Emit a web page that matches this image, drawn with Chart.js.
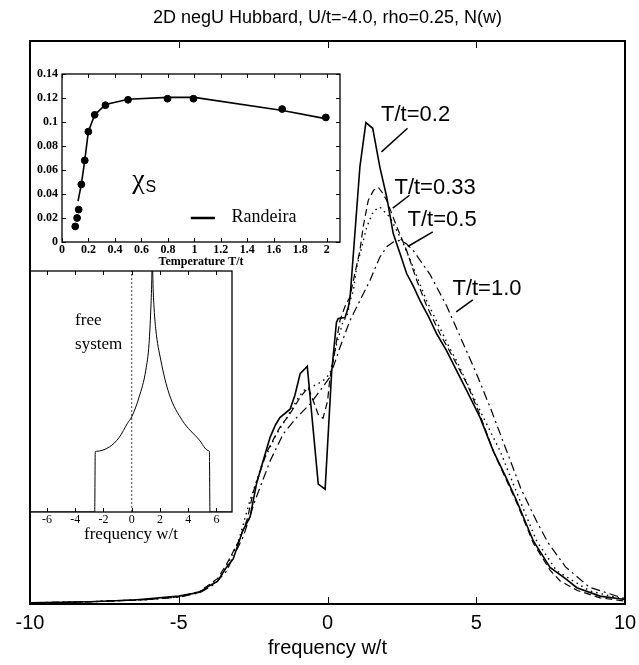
<!DOCTYPE html>
<html lang="en">
<head>
<meta charset="UTF-8">
<title>2D negU Hubbard N(w)</title>
<script src="https://cdn.jsdelivr.net/npm/chart.js@4"></script>
<style>
  body { margin: 0; background: #fff; }
  #wrap { position: relative; width: 639px; height: 665px; }
  canvas { position: absolute; }
  #main { left: 0; top: 0; }
  #free { left: 29px; top: 269px; }
  #chi { left: 31px; top: 43px; }
</style>
</head>
<body>
<div id="wrap">
  <canvas id="main" width="639" height="665"></canvas>
  <canvas id="free" width="205" height="280"></canvas>
  <canvas id="chi" width="316" height="226"></canvas>
</div>
<script>
// main panel: N(w) for four temperatures
const mainTicks = [-10, -5, 0, 5, 10];

const wT02 = [-10, -8, -6.5, -5, -4.3, -3.95, -3.7, -3.4, -3.17, -2.85, -2.6, -2.38, -2.16, -1.93, -1.75, -1.6, -1.26, -1.1, -0.92, -0.68, -0.31, -0.08, 0.14, 0.3, 0.36, 0.59, 0.7, 0.76, 1.09, 1.29, 1.52, 1.76, 1.99, 2.21, 2.44, 2.66, 2.88, 3.11, 3.4, 3.67, 4.0, 4.68, 5.13, 5.57, 6.0, 6.36, 6.92, 7.48, 8.0, 8.38, 9.16, 10];
const nT02 = [0.002, 0.004, 0.007, 0.014, 0.021, 0.033, 0.04, 0.065, 0.08, 0.13, 0.155, 0.215, 0.255, 0.296, 0.318, 0.331, 0.346, 0.37, 0.409, 0.422, 0.213, 0.204, 0.412, 0.5, 0.507, 0.509, 0.527, 0.545, 0.777, 0.855, 0.845, 0.776, 0.723, 0.658, 0.622, 0.587, 0.565, 0.539, 0.51, 0.48, 0.45, 0.379, 0.331, 0.272, 0.225, 0.183, 0.112, 0.065, 0.045, 0.029, 0.014, 0.008];

const wT033 = [-10, -8, -6, -5, -4.3, -3.7, -3.4, -3.0, -2.7, -2.49, -2.04, -1.6, -1.26, -0.92, -0.65, -0.48, -0.3, -0.15, 0.0, 0.08, 0.25, 0.42, 0.6, 0.75, 0.92, 1.09, 1.2, 1.37, 1.55, 1.71, 1.85, 1.99, 2.33, 2.66, 3.0, 3.33, 3.78, 4.2, 4.7, 5.13, 5.6, 6.36, 6.92, 7.48, 7.82, 8.4, 9.16, 10];
const nT033 = [0.002, 0.004, 0.008, 0.013, 0.022, 0.045, 0.07, 0.11, 0.15, 0.2, 0.27, 0.314, 0.338, 0.367, 0.385, 0.361, 0.335, 0.33, 0.36, 0.4, 0.45, 0.504, 0.53, 0.545, 0.587, 0.628, 0.67, 0.717, 0.735, 0.74, 0.73, 0.717, 0.67, 0.628, 0.575, 0.53, 0.48, 0.44, 0.39, 0.335, 0.268, 0.18, 0.108, 0.06, 0.041, 0.024, 0.011, 0.005];

const wT05 = [-10, -8, -6, -5, -4.3, -3.7, -3.4, -3.0, -2.61, -2.16, -1.71, -1.37, -1.04, -0.81, -0.59, -0.35, -0.14, 0.08, 0.31, 0.53, 0.65, 0.76, 0.87, 0.98, 1.32, 1.55, 1.76, 2.1, 2.55, 2.88, 3.33, 3.78, 4.12, 4.34, 5.13, 5.8, 6.45, 7.03, 7.7, 8.82, 10];
const nT05 = [0.002, 0.004, 0.008, 0.013, 0.022, 0.042, 0.065, 0.11, 0.183, 0.254, 0.302, 0.331, 0.361, 0.379, 0.385, 0.39, 0.397, 0.409, 0.462, 0.504, 0.509, 0.539, 0.557, 0.598, 0.67, 0.698, 0.705, 0.687, 0.64, 0.598, 0.539, 0.49, 0.453, 0.432, 0.343, 0.272, 0.186, 0.112, 0.059, 0.023, 0.008];

const wT10 = [-10, -8, -6, -5, -4.29, -3.8, -3.4, -2.83, -2.44, -1.93, -1.49, -1.04, -0.59, -0.25, 0.08, 0.42, 0.76, 1.09, 1.43, 1.76, 2.0, 2.21, 2.44, 2.65, 2.88, 3.45, 4.0, 4.5, 5.0, 5.5, 6.0, 6.5, 7.0, 7.4, 8.0, 8.8, 9.9, 10];
const nT10 = [0.002, 0.004, 0.008, 0.012, 0.02, 0.035, 0.058, 0.12, 0.183, 0.254, 0.302, 0.331, 0.355, 0.379, 0.403, 0.456, 0.504, 0.539, 0.575, 0.616, 0.635, 0.643, 0.646, 0.64, 0.628, 0.585, 0.53, 0.47, 0.41, 0.345, 0.275, 0.205, 0.15, 0.11, 0.066, 0.03, 0.011, 0.01];

// upper inset: chi_s vs temperature
const chiXTicks = [0, 0.2, 0.4, 0.6, 0.8, 1, 1.2, 1.4, 1.6, 1.8, 2];
const chiYTicks = [0, 0.02, 0.04, 0.06, 0.08, 0.1, 0.12, 0.14];
const tChi = [0.1, 0.114, 0.126, 0.146, 0.172, 0.199, 0.247, 0.328, 0.499, 0.797, 0.993, 1.663, 1.993];
const chi = [0.013, 0.02, 0.027, 0.048, 0.068, 0.092, 0.106, 0.114, 0.1185, 0.1194, 0.1194, 0.1108, 0.1038];
const tRand = [0.121, 0.146, 0.172, 0.199, 0.247, 0.33, 0.5, 0.8, 1.0, 1.667, 2.0];
const chiRand = [0.034, 0.048, 0.068, 0.092, 0.106, 0.1147, 0.119, 0.1205, 0.1205, 0.1096, 0.1026];

// lower inset: free system DOS
const freeTicks = [-6, -4, -2, 0, 2, 4, 6];
const wFree = [-7.2, -2.62, -2.58, -2.5, -1.58, -0.88, -0.3, 0, 0.53, 1.0, 1.23, 1.35, 1.42, 1.46, 1.5, 1.57, 1.7, 2.06, 2.65, 3.58, 4.77, 5.42, 5.5, 5.54, 7.1];
const nFree = [0, 0, 0.25, 0.252, 0.27, 0.31, 0.368, 0.395, 0.478, 0.589, 0.7, 0.838, 0.963, 1.1, 0.963, 0.86, 0.76, 0.63, 0.49, 0.38, 0.3, 0.255, 0.25, 0, 0];
const zeroX = [0, 0];
const zeroY = [0, 1];

const SANS = 'Liberation Sans, Arial, sans-serif';
const SERIF = 'Liberation Serif, Times New Roman, serif';

const pts = (xs, ys) => xs.map((x, i) => ({ x, y: ys[i] }));
const setTicks = list => scale => { scale.ticks = list.map(v => ({ value: v })); };

// box round the plot area with inward tick marks
const frame = {
  id: 'frame',
  afterDraw(chart, args, o) {
    const { ctx, chartArea: a, scales } = chart;
    ctx.save();
    ctx.strokeStyle = '#000';
    ctx.lineWidth = o.width;
    ctx.strokeRect(a.left, a.top, a.right - a.left, a.bottom - a.top);
    ctx.lineWidth = 1;
    ctx.beginPath();
    (o.xTicks || []).forEach(v => {
      const x = Math.round(scales.x.getPixelForValue(v)) + 0.5;
      ctx.moveTo(x, a.bottom); ctx.lineTo(x, a.bottom - o.len);
      ctx.moveTo(x, a.top); ctx.lineTo(x, a.top + o.len);
    });
    (o.yTicks || []).forEach(v => {
      const y = Math.round(scales.y.getPixelForValue(v)) + 0.5;
      ctx.moveTo(a.left, y); ctx.lineTo(a.left + o.len, y);
      ctx.moveTo(a.right, y); ctx.lineTo(a.right - o.len, y);
    });
    ctx.stroke();
    ctx.restore();
  }
};

// free text and leader lines, placed in data units
const notes = {
  id: 'notes',
  afterDatasetsDraw(chart, args, o) {
    const { ctx, scales: { x, y } } = chart;
    ctx.save();
    ctx.fillStyle = '#000';
    ctx.strokeStyle = '#000';
    (o.lines || []).forEach(l => {
      ctx.lineWidth = l.width || 1;
      ctx.beginPath();
      ctx.moveTo(x.getPixelForValue(l.x1), y.getPixelForValue(l.y1));
      ctx.lineTo(x.getPixelForValue(l.x2), y.getPixelForValue(l.y2));
      ctx.stroke();
    });
    (o.texts || []).forEach(t => {
      ctx.font = t.font;
      ctx.textAlign = 'left';
      ctx.textBaseline = 'middle';
      ctx.fillText(t.text, x.getPixelForValue(t.x), y.getPixelForValue(t.y));
    });
    ctx.restore();
  }
};

const curve = (label, xs, ys, dash, width) => ({
  label,
  data: pts(xs, ys),
  borderColor: '#000',
  borderWidth: width,
  borderDash: dash,
  pointRadius: 0,
  tension: 0,
  fill: false
});

const plain = { display: false, drawTicks: false };
// keep the plot box where the reference has it, labels may overhang
const noOverhang = height => s => { s.height = height; s.paddingLeft = 0; s.paddingRight = 0; };

new Chart(document.getElementById('main'), {
  type: 'line',
  data: {
    datasets: [
      curve('T/t=1.0', wT10, nT10, [9, 4, 2, 4], 1.2),
      curve('T/t=0.5', wT05, nT05, [1.5, 4], 1.4),
      curve('T/t=0.33', wT033, nT033, [7, 4], 1.2),
      curve('T/t=0.2', wT02, nT02, [], 1.6)
    ]
  },
  options: {
    responsive: false,
    animation: false,
    layout: { padding: { left: 30, right: 14, top: 0, bottom: 0 } },
    plugins: {
      legend: { display: false },
      tooltip: { enabled: false },
      title: {
        display: true,
        text: '2D negU Hubbard, U/t=-4.0, rho=0.25, N(w)',
        color: '#000',
        font: { family: SANS, size: 18, weight: 'normal' },
        padding: { top: 7, bottom: 12.4 }
      },
      frame: { width: 2, len: 7, xTicks: [-5, 0, 5] },
      notes: {
        texts: [
          { text: 'T/t=0.2', x: 1.8, y: 0.868, font: `22px ${SANS}` },
          { text: 'T/t=0.33', x: 2.25, y: 0.739, font: `22px ${SANS}` },
          { text: 'T/t=0.5', x: 2.69, y: 0.682, font: `22px ${SANS}` },
          { text: 'T/t=1.0', x: 4.2, y: 0.56, font: `22px ${SANS}` }
        ],
        lines: [
          { x1: 2.69, y1: 0.845, x2: 1.815, y2: 0.803, width: 1.5 },
          { x1: 2.756, y1: 0.726, x2: 2.195, y2: 0.703, width: 1.5 },
          { x1: 3.54, y1: 0.661, x2: 2.7, y2: 0.635, width: 1.5 },
          { x1: 4.884, y1: 0.54, x2: 4.326, y2: 0.519, width: 1.5 }
        ]
      }
    },
    scales: {
      x: {
        type: 'linear', min: -10, max: 10,
        afterBuildTicks: setTicks(mainTicks),
        afterFit: noOverhang(61),
        grid: plain,
        border: { display: false },
        ticks: { padding: 7, color: '#000', maxRotation: 0, autoSkip: false, font: { family: SANS, size: 20 } },
        title: { display: true, text: 'frequency w/t', color: '#000', font: { family: SANS, size: 20 }, padding: { top: 0, bottom: 5 } }
      },
      y: { display: false, min: 0, max: 1 }
    }
  },
  plugins: [frame, notes]
});

new Chart(document.getElementById('chi'), {
  type: 'scatter',
  data: {
    datasets: [
      { type: 'line', label: 'Randeira', data: pts(tRand, chiRand), borderColor: '#000', borderWidth: 1.6, pointRadius: 0, tension: 0, showLine: true },
      { label: 'chi_s', data: pts(tChi, chi), backgroundColor: '#000', borderColor: '#000', pointRadius: 3.4 }
    ]
  },
  options: {
    responsive: false,
    animation: false,
    layout: { padding: { left: 0, right: 7, top: 31, bottom: 0 } },
    plugins: {
      legend: { display: false },
      tooltip: { enabled: false },
      frame: { width: 1.3, len: 4, xTicks: chiXTicks, yTicks: chiYTicks },
      notes: {
        texts: [
          { text: 'χ', x: 0.53, y: 0.051, font: `28px ${SERIF}` },
          { text: 'S', x: 0.63, y: 0.045, font: `16px ${SANS}` },
          { text: 'Randeira', x: 1.28, y: 0.0205, font: `18px ${SERIF}` }
        ],
        lines: [{ x1: 0.973, y1: 0.02, x2: 1.155, y2: 0.02, width: 2.5 }]
      }
    },
    scales: {
      x: {
        type: 'linear', min: 0, max: 2.1,
        afterBuildTicks: setTicks(chiXTicks),
        afterFit: noOverhang(27),
        grid: plain,
        border: { display: false },
        ticks: { padding: 2, color: '#000', maxRotation: 0, autoSkip: false, font: { family: SERIF, size: 12, weight: 'bold', lineHeight: 1 }, callback: v => String(+v.toFixed(1)) },
        title: { display: true, text: 'Temperature T/t', color: '#000', font: { family: SERIF, size: 12, weight: 'bold', lineHeight: 1 }, padding: { top: 0, bottom: 1 } }
      },
      y: {
        type: 'linear', min: 0, max: 0.14,
        afterBuildTicks: setTicks(chiYTicks),
        afterFit: s => { s.width = 31; },
        grid: plain,
        border: { display: false },
        ticks: { padding: 4, color: '#000', autoSkip: false, font: { family: SERIF, size: 12, weight: 'bold' }, callback: v => String(+v.toFixed(2)) }
      }
    }
  },
  plugins: [frame, notes]
});

new Chart(document.getElementById('free'), {
  type: 'line',
  data: {
    datasets: [
      { label: 'free', data: pts(wFree, nFree), borderColor: '#000', borderWidth: 1, pointRadius: 0, cubicInterpolationMode: 'monotone' },
      { label: 'w=0', data: pts(zeroX, zeroY), borderColor: '#444', borderWidth: 1, borderDash: [2, 2], pointRadius: 0 }
    ]
  },
  options: {
    responsive: false,
    animation: false,
    layout: { padding: { left: 1, right: 2, top: 2, bottom: 0 } },
    plugins: {
      legend: { display: false },
      tooltip: { enabled: false },
      frame: { width: 1.3, len: 4, xTicks: freeTicks },
      notes: {
        texts: [
          { text: 'free', x: -4.01, y: 0.793, font: `17px ${SERIF}` },
          { text: 'system', x: -4.01, y: 0.693, font: `17px ${SERIF}` }
        ]
      }
    },
    scales: {
      x: {
        type: 'linear', min: -7.2, max: 7.1,
        afterBuildTicks: setTicks(freeTicks),
        afterFit: noOverhang(37),
        grid: plain,
        border: { display: false },
        ticks: { padding: 2, color: '#000', maxRotation: 0, autoSkip: false, font: { family: SERIF, size: 12, lineHeight: 1 } },
        title: { display: true, text: 'frequency w/t', color: '#000', font: { family: SERIF, size: 17 }, padding: { top: 0, bottom: 4 } }
      },
      y: { display: false, min: 0, max: 1 }
    }
  },
  plugins: [frame, notes]
});
</script>
</body>
</html>
